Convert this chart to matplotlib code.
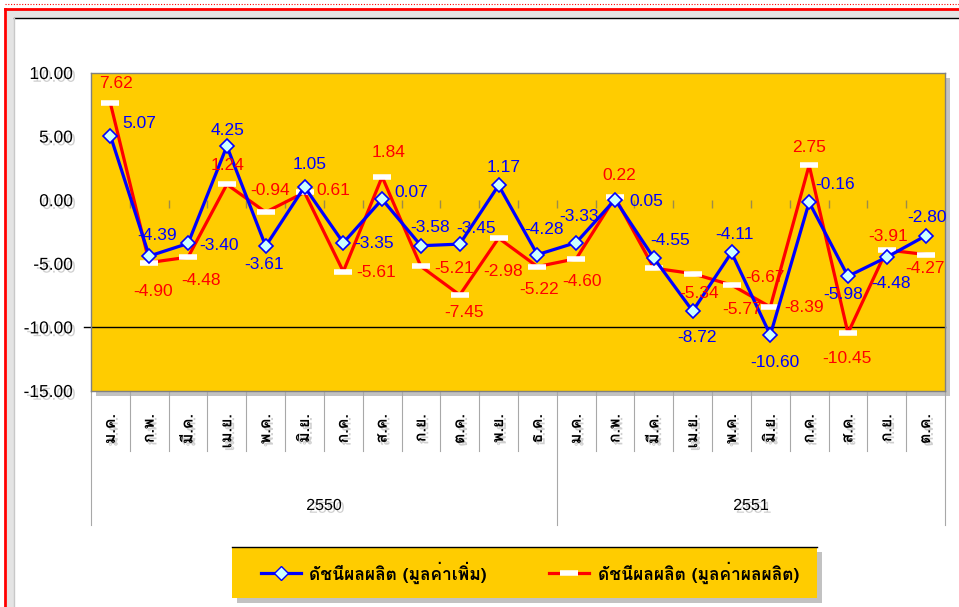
import numpy as np
import matplotlib.pyplot as plt
import matplotlib.patheffects as pe
from matplotlib import font_manager
from matplotlib.ft2font import FT2Font
from matplotlib.lines import Line2D
from matplotlib.patches import Rectangle
from matplotlib.transforms import blended_transform_factory

# data
months = ['ม.ค.', 'ก.พ.', 'มี.ค.', 'เม.ย.', 'พ.ค.', 'มิ.ย.', 'ก.ค.', 'ส.ค.', 'ก.ย.', 'ต.ค.', 'พ.ย.', 'ธ.ค.',
          'ม.ค.', 'ก.พ.', 'มี.ค.', 'เม.ย.', 'พ.ค.', 'มิ.ย.', 'ก.ค.', 'ส.ค.', 'ก.ย.', 'ต.ค.']
years = ['2550', '2551']
months_per_year = [12, 10]
value_added = [5.07, -4.39, -3.40, 4.25, -3.61, 1.05, -3.35, 0.07, -3.58, -3.45, 1.17, -4.28,
               -3.33, 0.05, -4.55, -8.72, -4.11, -10.60, -0.16, -5.98, -4.48, -2.80]
output_value = [7.62, -4.90, -4.48, 1.24, -0.94, 0.61, -5.61, 1.84, -5.21, -7.45, -2.98, -5.22,
                -4.60, 0.22, -5.34, -5.77, -6.67, -8.39, 2.75, -10.45, -3.91, -4.27]
series_names = ['ดัชนีผลผลิต (มูลค่าเพิ่ม)', 'ดัชนีผลผลิต (มูลค่าผลผลิต)']

# label offsets in pixels (dx, dy up)
blue_off = [(29, 12), (8, 21), (31, -2), (1, 16), (-2, -18), (5, 22), (31, -1), (29, 7),
            (9, 18), (16, 16), (5, 18), (7, 25), (3, 26), (31, -2), (16, 18), (4, -26),
            (3, 18), (5, -27), (26, 18), (-5, -18), (4, -26), (1, 18)]
red_off = [(6, 20), (4, -29), (13, -23), (1, 19), (4, 22), (29, 2), (33, -1), (6, 24),
           (33, -2), (4, -18), (4, -33), (2, -23), (6, -23), (4, 22), (45, -25), (49, -36),
           (34, 8), (34, -1), (0, 18), (-1, -25), (1, 13), (-1, -14)]


def find_thai_font():
    for f in font_manager.fontManager.ttflist:
        try:
            cmap = FT2Font(f.fname).get_charmap()
        except Exception:
            continue
        if 0x0E14 in cmap and 0x0E25 in cmap:
            return f.name
    return None


thai = find_thai_font()
thai_family = [thai, 'Liberation Sans'] if thai else ['Liberation Sans']
plt.rcParams['font.family'] = ['Liberation Sans', 'DejaVu Sans']

W, H = 959, 607
def fx(x):
    return x / W
def fy(y):
    return 1 - y / H

fig = plt.figure(figsize=(W / 100, H / 100), dpi=100, facecolor='white')

# outer frame
fig.patches.append(Rectangle((fx(7), 0), 1, fy(10), transform=fig.transFigure, fc='#E4E4E4', ec='none', zorder=-3))
fig.patches.append(Rectangle((fx(14), 0), 1, fy(18), transform=fig.transFigure, fc='white', ec='none', zorder=-2))
fig.add_artist(Line2D([fx(14), 1], [fy(18), fy(18)], color='black', lw=1))
fig.add_artist(Line2D([fx(5), 1], [fy(9), fy(9)], color='#FF0000', lw=2))
fig.add_artist(Line2D([fx(5), 1], [fy(4), fy(4)], color='#FF0000', lw=0.8, ls=(0, (1, 1.5))))
fig.add_artist(Line2D([fx(5), fx(5)], [0, fy(9)], color='#FF0000', lw=2))
fig.add_artist(Line2D([fx(14), fx(14)], [0, fy(18)], color='#C8C8C8', lw=1))

# plot area + shadow
left, right, top, bottom = 91, 945, 73, 391
fig.patches.append(Rectangle((fx(left + 5), fy(bottom + 5)), fx(right - left), fy(top) - fy(bottom),
                             transform=fig.transFigure, fc='#9A9A9A', ec='none', alpha=0.6, zorder=-1))
ax = fig.add_axes([fx(left), fy(bottom), fx(right - left), fy(top) - fy(bottom)])
ax.set_zorder(2)
ax.set_facecolor('#FFCC00')
for s in ax.spines.values():
    s.set_color('#808080')
    s.set_linewidth(1)

x = np.arange(len(months))
ax.set_xlim(-0.5, len(months) - 0.5)
ax.set_ylim(-15, 10)
ax.set_xticks([])
ax.set_yticks(np.arange(-15, 11, 5))
ax.set_yticklabels(['%.2f' % t for t in np.arange(-15, 11, 5)])
ax.tick_params(axis='y', length=0, pad=13, labelsize=12.5)
for lbl in ax.get_yticklabels():
    lbl.set_path_effects([pe.withSimplePatchShadow(offset=(2, -2), shadow_rgbFace='#777777', alpha=0.35)])

trans = blended_transform_factory(ax.transAxes, ax.transData)
ax.plot([-0.008, 1], [-10, -10], color='black', lw=1, transform=trans, clip_on=False, zorder=2)

bounds = np.arange(len(months) + 1) - 0.5
ax.vlines(bounds[1:-1], -0.6, 0, color='#9C8A4A', lw=1, zorder=1)

ax.plot(x, value_added, color='#0000FF', lw=2.3, marker='D', ms=7, mfc='#CCFFFF', mec='#0000FF',
        mew=1.2, zorder=4, clip_on=False)
ax.plot(x, output_value, color='#FF0000', lw=2.3, zorder=3, clip_on=False)
ax.plot(x, output_value, ls='none', marker='_', ms=13, mew=4, mec='white', zorder=3.5, clip_on=False)

for i in range(len(months)):
    ax.annotate('%.2f' % value_added[i], (x[i], value_added[i]), xytext=blue_off[i],
                textcoords='offset pixels', ha='center', va='center', color='#0000FF',
                fontsize=12.5, zorder=6, annotation_clip=False)
    ax.annotate('%.2f' % output_value[i], (x[i], output_value[i]), xytext=red_off[i],
                textcoords='offset pixels', ha='center', va='center', color='#FF0000',
                fontsize=12.5, zorder=6, annotation_clip=False)

# category axis below
btrans = blended_transform_factory(ax.transData, ax.transAxes)
edges = [-0.5]
for n in months_per_year:
    edges.append(edges[-1] + n)
for b in bounds:
    long_line = any(abs(b - e) < 1e-6 for e in edges)
    ax.plot([b, b], [0, -0.42 if long_line else -0.19], color='#A8A8A8', lw=0.8,
            transform=btrans, clip_on=False)
shadow = [pe.withSimplePatchShadow(offset=(2, -2), shadow_rgbFace='#777777', alpha=0.35)]
for i, m in enumerate(months):
    ax.text(x[i], -0.072, m, rotation=90, ha='center', va='top', fontsize=11.5, fontweight='bold',
            family=thai_family, transform=btrans, path_effects=shadow)
for k, yr in enumerate(years):
    ax.text((edges[k] + edges[k + 1]) / 2, -0.36, yr, ha='center', va='center', fontsize=11.5,
            transform=btrans, path_effects=shadow)

# legend box
lx0, lx1, ly0, ly1 = 232, 817, 547, 598
fig.patches.append(Rectangle((fx(lx0 + 5), fy(ly1 + 5)), fx(lx1 - lx0), fy(ly0) - fy(ly1),
                             transform=fig.transFigure, fc='#9A9A9A', ec='none', alpha=0.6, zorder=1))
fig.patches.append(Rectangle((fx(lx0), fy(ly1)), fx(lx1 - lx0), fy(ly0) - fy(ly1),
                             transform=fig.transFigure, fc='#FFCC00', ec='none', zorder=1))
fig.add_artist(Line2D([fx(lx0), fx(lx1)], [fy(ly0), fy(ly0)], color='black', lw=1))
h1 = Line2D([], [], color='#0000FF', lw=2.3, marker='D', ms=7, mfc='#CCFFFF', mec='#0000FF')
h2 = Line2D([], [], color='#FF0000', lw=2.3, marker='_', ms=13, mew=4, mec='white')
fig.legend([h1, h2], series_names, loc='center', bbox_to_anchor=(fx(530), fy((ly0 + ly1) / 2)),
           ncol=2, frameon=False, handlelength=2.3, handletextpad=0.5, columnspacing=3.6,
           prop={'family': thai_family, 'size': 12.5, 'weight': 'bold'})

fig.savefig('out.png', dpi=100)
